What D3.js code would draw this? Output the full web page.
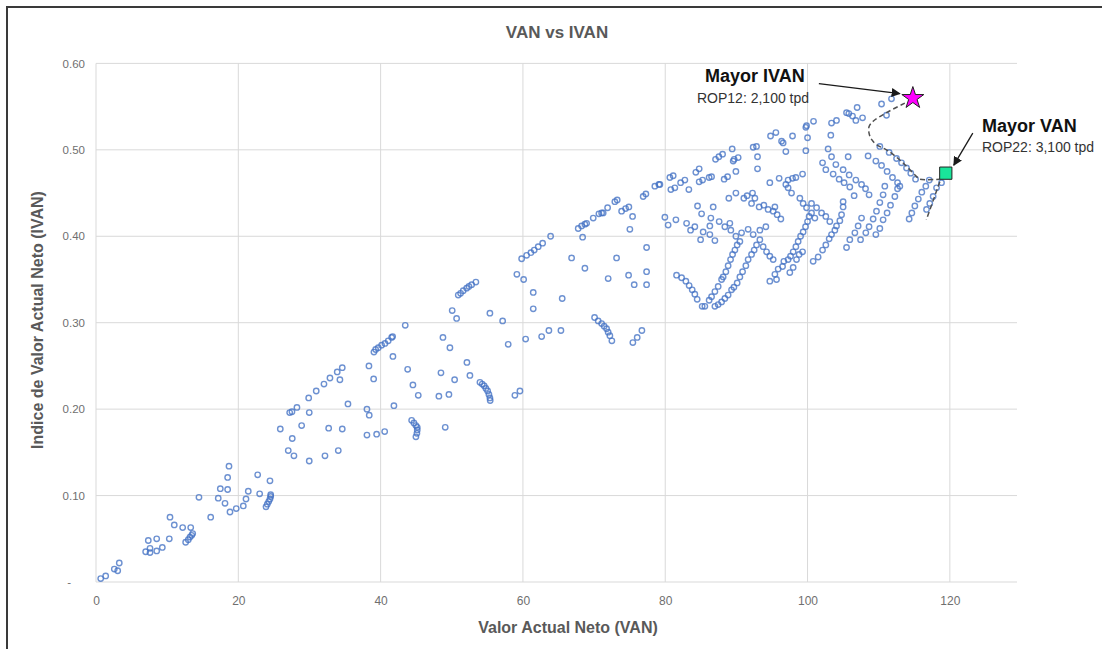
<!DOCTYPE html>
<html>
<head>
<meta charset="utf-8">
<script src="https://cdn.jsdelivr.net/npm/d3@7"></script>
<style>
  html, body { margin: 0; padding: 0; background: #ffffff; }
  svg { display: block; }
  text { font-family: "Liberation Sans", Arial, sans-serif; }
</style>
</head>
<body>
<svg id="chart" width="1102" height="649"></svg>
<script>
// ---------------- DATA ----------------
const chartTitle = "VAN vs IVAN";
const xTitle = "Valor Actual Neto (VAN)";
const yTitle = "Indice de Valor Actual Neto (IVAN)";
const xTicks = [0, 20, 40, 60, 80, 100, 120];
const yTicks = [0, 0.1, 0.2, 0.3, 0.4, 0.5, 0.6];

// scenarios: [VAN, IVAN]
const scenariosLow = [
  [0.66,0.004],[1.36,0.007],[2.57,0.015],[3.05,0.013],[3.27,0.022],[6.98,0.035],[7.59,0.034],[7.59,0.039],
  [7.35,0.048],[8.53,0.036],[8.53,0.050],[9.32,0.040],[10.30,0.050],[10.40,0.075],[11.00,0.066],[12.18,0.063],
  [12.60,0.046],[12.97,0.049],[13.21,0.052],[13.45,0.054],[13.59,0.056],[13.31,0.063],[14.47,0.098],[16.12,0.075],
  [17.18,0.097],[17.47,0.108],[18.13,0.091],[18.50,0.107],[18.50,0.121],[18.69,0.134],[18.83,0.081],[19.71,0.085],
  [20.70,0.088],[21.08,0.096],[21.40,0.105],[22.72,0.124],[23.00,0.102],[24.45,0.117],[23.89,0.087],[24.07,0.090],
  [24.27,0.093],[24.45,0.096],[24.55,0.099],[24.55,0.101],[25.90,0.177],[27.02,0.152],[27.82,0.146],[27.58,0.166],
  [27.22,0.196],[27.54,0.197],[28.24,0.202],[28.90,0.181],[29.97,0.140],[29.97,0.196],[29.89,0.213],[30.95,0.221],
  [32.04,0.229],[32.18,0.146],[32.70,0.178],[34.61,0.177],[34.05,0.152],[35.41,0.206],[38.08,0.200],[38.40,0.193],
  [38.08,0.170],[39.44,0.171]
];
const scenariosMid = [
  [32.88,0.236],[33.90,0.243],[34.61,0.248],[34.28,0.234],[40.57,0.174],[38.36,0.250],[39.02,0.235],[39.06,0.266],
  [39.30,0.269],[39.67,0.271],[40.14,0.274],[40.61,0.276],[41.07,0.279],[41.55,0.283],[41.69,0.284],[43.46,0.297],
  [41.73,0.261],[41.87,0.204],[43.80,0.246],[44.54,0.228],[45.29,0.216],[44.36,0.187],[44.68,0.184],[44.96,0.181],
  [45.15,0.179],[45.15,0.176],[45.10,0.172],[44.96,0.168],[49.08,0.179],[48.19,0.215],[49.60,0.217],[48.48,0.242],
  [50.40,0.234],[48.76,0.283],[49.74,0.271],[50.06,0.314],[50.68,0.305],[50.91,0.332],[51.24,0.334],[51.61,0.337],
  [52.09,0.340],[52.41,0.342],[52.79,0.344],[53.39,0.347],[52.13,0.254],[52.55,0.239],[53.96,0.231],[54.28,0.229],
  [54.56,0.227],[54.80,0.224],[55.04,0.221],[55.22,0.217],[55.36,0.213],[55.40,0.210],[55.36,0.311],[57.15,0.302],
  [57.93,0.275],[58.87,0.216],[59.58,0.221],[59.15,0.356],[60.10,0.350],[61.45,0.335],[61.45,0.316],[60.38,0.281],
  [62.63,0.284],[63.65,0.291],[59.82,0.374],[60.52,0.378],[61.12,0.381],[61.59,0.384],[62.15,0.388],[62.77,0.392]
];
const scenariosUpper = [
  [65.34,0.291],[63.89,0.400],[65.52,0.328],[66.84,0.375],[67.77,0.409],[68.25,0.412],[68.71,0.414],[68.95,0.415],
  [68.39,0.399],[68.71,0.363],[69.88,0.421],[70.68,0.426],[71.06,0.427],[71.28,0.427],[71.90,0.433],[72.92,0.440],
  [73.25,0.442],[73.87,0.429],[74.43,0.432],[74.89,0.434],[75.41,0.423],[75.03,0.408],[73.16,0.375],[71.98,0.351],
  [70.07,0.306],[70.58,0.302],[71.06,0.299],[71.42,0.296],[71.76,0.293],[71.98,0.289],[72.22,0.285],[72.50,0.279],
  [75.45,0.277],[76.06,0.283],[76.72,0.291],[74.85,0.355],[75.64,0.344],[77.38,0.387],[77.38,0.359],[77.38,0.344],
  [76.90,0.446],[77.28,0.449],[78.54,0.458],[79.11,0.460],[79.25,0.460],
  [80.65,0.468],[81.12,0.470],[80.79,0.454],[81.35,0.456],[82.16,0.462],[82.76,0.465],[83.32,0.454],[84.30,0.474],
  [84.77,0.478],[84.77,0.463],[85.25,0.465],[86.17,0.468],[86.51,0.469],[87.07,0.489],[87.54,0.492],[88.06,0.495],
  [88.28,0.466],[88.76,0.469],[89.41,0.501],[89.55,0.487],[89.69,0.489],[90.25,0.491],[89.93,0.475],[92.36,0.503],
  [92.83,0.504],[92.97,0.492],[92.97,0.478],[94.80,0.516],[95.55,0.520],[96.35,0.510],[96.57,0.508],[96.95,0.498],
  [97.89,0.516],[99.76,0.526],[99.86,0.528],[100.84,0.533],[100.00,0.514],[99.76,0.499],[103.37,0.531],[104.07,0.534],
  [103.27,0.517],[102.89,0.501],[105.48,0.543],[105.80,0.542],[106.97,0.549],[106.32,0.539],[107.73,0.537],[106.79,0.534],
  [110.40,0.553],[111.80,0.559],[111.10,0.540],[110.16,0.504]
];
const scenariosCluster = [
  [94.70,0.462],[96.01,0.467],[96.95,0.460],[97.27,0.465],[97.89,0.467],[98.36,0.468],[99.30,0.472],
  [102.11,0.485],[102.57,0.477],[103.60,0.472],[104.44,0.466],[105.14,0.462],[105.94,0.457],[106.55,0.447],
  [103.98,0.483],[105.00,0.477],[105.85,0.471],[106.79,0.465],[107.59,0.460],[108.15,0.455],[108.65,0.448],
  [108.51,0.493],[109.60,0.487],[110.40,0.482],[111.18,0.475],[111.94,0.468],[112.65,0.462],[112.97,0.458],
  [111.47,0.497],[112.51,0.490],[113.21,0.485],[113.91,0.479],[114.51,0.473],[115.18,0.466],
  [103.37,0.492],[105.71,0.492],
  [100.79,0.371],[101.49,0.376],[102.11,0.384],[102.57,0.390],[103.04,0.397],[103.37,0.402],[103.84,0.407],[104.07,0.412],
  [104.54,0.418],[104.78,0.425],[105.00,0.434],[105.00,0.440],
  [105.48,0.387],[105.94,0.396],[106.65,0.404],[107.11,0.412],[107.59,0.421],
  [107.45,0.396],[108.19,0.404],[108.65,0.411],[109.22,0.420],[109.69,0.429],[110.16,0.439],[110.62,0.448],[110.86,0.458],
  [109.60,0.402],[110.16,0.409],[110.62,0.419],[111.18,0.427],[111.66,0.436],[112.27,0.446],[112.65,0.455],
  [114.28,0.420],[114.66,0.427],[115.08,0.435],[115.57,0.443],[116.06,0.451],[116.62,0.458],[117.11,0.465],
  [116.72,0.431],[117.18,0.438],[117.65,0.446],[118.13,0.456],[118.83,0.462],
  [79.95,0.422],[80.41,0.413],[81.50,0.419],[83.00,0.415],[83.56,0.407],[84.16,0.411],[84.54,0.435],[85.11,0.426],
  [86.74,0.434],[86.41,0.421],[86.27,0.412],[84.97,0.396],[85.33,0.405],[86.27,0.402],[86.98,0.395],[87.58,0.417],
  [88.38,0.411],[89.08,0.415],[88.94,0.444],[89.93,0.450],[89.22,0.407],[89.93,0.400],[90.49,0.394],[90.73,0.404],
  [91.65,0.408],[91.05,0.444],[91.51,0.447],[92.27,0.450],[92.60,0.444],[92.13,0.438],[93.20,0.434],[93.86,0.436],
  [94.46,0.431],[95.41,0.434],[95.17,0.429],[95.73,0.425],[96.25,0.420],[92.36,0.402],[93.30,0.407],[94.14,0.411],
  [93.30,0.396],[92.83,0.390],[93.76,0.388],[94.24,0.382],[94.70,0.377],[95.17,0.373],
  [92.50,0.384],[92.13,0.379],[91.65,0.373],[91.33,0.366],[90.87,0.359],[90.49,0.353],[90.11,0.346],[89.65,0.341],
  [89.32,0.338],[88.84,0.332],[88.38,0.328],[87.92,0.324],[87.44,0.321],[86.98,0.319],
  [81.59,0.355],[82.30,0.352],[82.90,0.348],[83.36,0.343],[83.79,0.338],[84.16,0.333],[84.49,0.327],[85.19,0.319],[85.57,0.319],
  [86.17,0.326],[86.51,0.330],[86.98,0.336],[87.44,0.342],[87.92,0.350],[88.14,0.353],[88.52,0.359],[88.84,0.366],
  [89.18,0.373],[89.46,0.379],[89.79,0.384],[90.11,0.390],
  [94.70,0.348],[95.64,0.350],[95.41,0.356],[95.87,0.362],[96.49,0.365],[96.67,0.371],[97.27,0.373],[97.61,0.377],
  [97.98,0.382],[98.36,0.388],[98.68,0.394],[99.02,0.400],[99.38,0.405],[99.72,0.411],[100.00,0.417],[100.22,0.423],
  [97.51,0.358],[97.98,0.364],[98.45,0.373],[98.82,0.379],[99.30,0.382],
  [97.27,0.456],[97.75,0.450],[98.92,0.444],[99.38,0.438],[99.86,0.433],[100.56,0.427],[101.03,0.421],
  [100.56,0.438],[101.27,0.433],[101.97,0.427],[102.57,0.423],[103.13,0.417]
];
const mayorIVAN = { van: 114.8, ivan: 0.561, label: "Mayor IVAN", sub: "ROP12: 2,100 tpd" };
const mayorVAN  = { van: 119.43, ivan: 0.473, label: "Mayor VAN", sub: "ROP22: 3,100 tpd" };
const frontierPath = [
  [113.67,0.554],[111.10,0.543],[109.22,0.533],[108.65,0.527],[108.65,0.519],[109.00,0.512],[109.69,0.506],
  [111.10,0.500],[112.73,0.490],[114.14,0.479],[115.32,0.469],[115.78,0.466],[118.59,0.466]
];
const frontierTail = [[118.59,0.463],[116.69,0.419]];

// ---------------- CHART ----------------
const svg = d3.select("#chart");
const x = d3.scaleLinear().domain([0, 130]).range([96, 1021]);
const y = d3.scaleLinear().domain([0, 0.6]).range([582, 63.4]);

// outer frame
svg.append("rect").attr("x", 7).attr("y", 7).attr("width", 1110).attr("height", 700)
  .attr("fill", "none").attr("stroke", "#3a3a3a").attr("stroke-width", 2);

// grid lines
const gGrid = svg.append("g");
gGrid.selectAll("line.h").data(yTicks).join("line")
  .attr("x1", x(0)).attr("x2", 1017).attr("y1", d => y(d)).attr("y2", d => y(d))
  .attr("stroke", "#d9d9d9").attr("stroke-width", 1);
gGrid.selectAll("line.v").data(xTicks).join("line")
  .attr("x1", d => x(d)).attr("x2", d => x(d)).attr("y1", y(0.6)).attr("y2", y(0))
  .attr("stroke", "#d9d9d9").attr("stroke-width", 1);

// axes (labels only)
const xAxis = d3.axisBottom(x).tickValues(xTicks).tickSize(0).tickPadding(14).tickFormat(d3.format("d"));
svg.append("g").attr("transform", `translate(0,${y(0)})`).call(xAxis)
  .call(g => g.select(".domain").remove())
  .selectAll("text").attr("fill", "#6f6f6f").style("font-size", "12px").style("font-family", "Liberation Sans, Arial, sans-serif");

const yAxis = d3.axisLeft(y).tickValues(yTicks).tickSize(0).tickPadding(11)
  .tickFormat(d => d === 0 ? "-" : d3.format(".2f")(d));
svg.append("g").attr("transform", `translate(${x(0)},0)`).call(yAxis)
  .call(g => g.select(".domain").remove())
  .selectAll("text").attr("fill", "#6f6f6f").style("font-size", "11.5px").style("font-family", "Liberation Sans, Arial, sans-serif")
  .attr("dx", d => d === 0 ? -14 : 0);

// titles
svg.append("text").attr("x", 557).attr("y", 38).attr("text-anchor", "middle")
  .attr("fill", "#595959").style("font-size", "17px").style("font-weight", "bold").text(chartTitle);
svg.append("text").attr("x", 568).attr("y", 633).attr("text-anchor", "middle")
  .attr("fill", "#595959").style("font-size", "16px").style("font-weight", "bold").text(xTitle);
svg.append("text").attr("transform", "translate(43,320) rotate(-90)").attr("text-anchor", "middle")
  .attr("fill", "#595959").style("font-size", "16px").style("font-weight", "bold").text(yTitle);

// scatter
const allPts = scenariosLow.concat(scenariosMid, scenariosUpper, scenariosCluster);
svg.append("g").selectAll("circle").data(allPts).join("circle")
  .attr("cx", d => x(d[0])).attr("cy", d => y(d[1])).attr("r", 2.7)
  .attr("fill", "none").attr("stroke", "#4472C4").attr("stroke-opacity", 0.78).attr("stroke-width", 1.4);

// frontier dashed lines
const line = d3.line().x(d => x(d[0])).y(d => y(d[1])).curve(d3.curveCatmullRom.alpha(0.5));
svg.append("path").attr("d", line(frontierPath)).attr("fill", "none")
  .attr("stroke", "#505050").attr("stroke-width", 1.5).attr("stroke-dasharray", "5,3");
svg.append("path").attr("d", d3.line().x(d => x(d[0])).y(d => y(d[1]))(frontierTail)).attr("fill", "none")
  .attr("stroke", "#505050").attr("stroke-width", 1.5).attr("stroke-dasharray", "5,3");

// arrow marker
svg.append("defs").append("marker").attr("id", "arr").attr("viewBox", "0 0 10 10")
  .attr("refX", 9).attr("refY", 5).attr("markerWidth", 7).attr("markerHeight", 7).attr("orient", "auto")
  .append("path").attr("d", "M0,0 L10,5 L0,10 z").attr("fill", "#1a1a1a");

// highlight markers
const sx = x(mayorIVAN.van), sy = y(mayorIVAN.ivan);
const qx = x(mayorVAN.van), qy = y(mayorVAN.ivan);
svg.append("line").attr("x1", sx - 94).attr("y1", sy - 13.5).attr("x2", sx - 13).attr("y2", sy - 3.5)
  .attr("stroke", "#1a1a1a").attr("stroke-width", 1.3).attr("marker-end", "url(#arr)");
svg.append("line").attr("x1", qx + 27).attr("y1", qy - 40).attr("x2", qx + 8).attr("y2", qy - 8)
  .attr("stroke", "#1a1a1a").attr("stroke-width", 1.3).attr("marker-end", "url(#arr)");

svg.append("path").attr("d", d3.symbol(d3.symbolStar).size(150)())
  .attr("transform", `translate(${sx},${sy + 1})`)
  .attr("fill", "#ff00ff").attr("stroke", "#222").attr("stroke-width", 1);
svg.append("path").attr("d", d3.symbol(d3.symbolSquare).size(150)())
  .attr("transform", `translate(${qx},${qy})`)
  .attr("fill", "#19e59a").attr("stroke", "#222").attr("stroke-width", 1);

// annotation texts
svg.append("text").attr("x", 705).attr("y", 82).attr("fill", "#111")
  .style("font-size", "18px").style("font-weight", "bold").text(mayorIVAN.label);
svg.append("text").attr("x", 697).attr("y", 103).attr("fill", "#333")
  .style("font-size", "14px").text(mayorIVAN.sub);
svg.append("text").attr("x", 982).attr("y", 132).attr("fill", "#111")
  .style("font-size", "18px").style("font-weight", "bold").text(mayorVAN.label);
svg.append("text").attr("x", 982).attr("y", 152).attr("fill", "#333")
  .style("font-size", "14px").text(mayorVAN.sub);
</script>
</body>
</html>
